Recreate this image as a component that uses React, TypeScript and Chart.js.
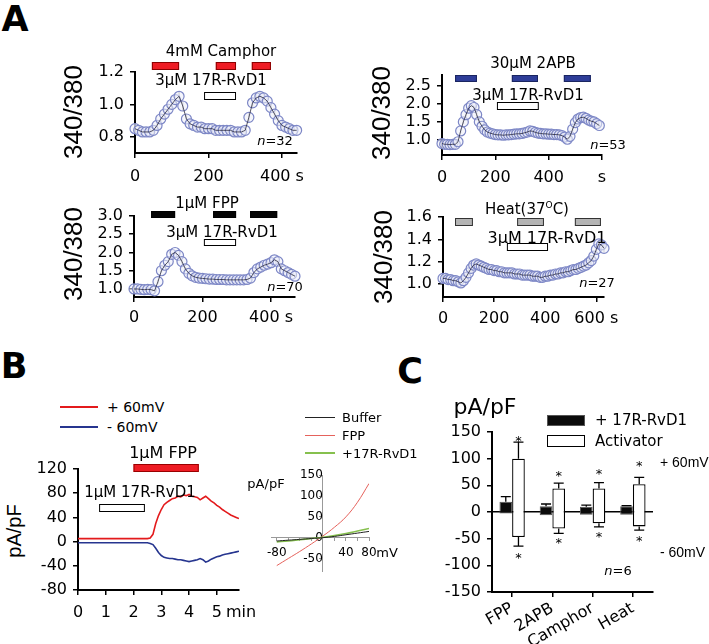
import React, { useEffect, useRef } from 'react';
import { Chart, registerables } from 'chart.js';
Chart.register(...registerables);

const FONT = "'DejaVu Sans', sans-serif";
const ARIAL = "'Liberation Sans', Arial, sans-serif";
Chart.defaults.font.family = FONT;
Chart.defaults.color = '#000';

// ---------------- DATA ----------------
// Panel A1: 4mM Camphor
const a1Time = [0,10,20,30,40,50,60,70,80,90,100,110,120,130,140,150,160,170,180,190,200,210,220,230,240,250,260,270,280,290,300,310,320,330,340,350,360,370,380,390,400,410,420,430,440];
const a1Ratio = [0.85,0.84,0.83,0.83,0.83,0.84,0.87,0.91,0.94,0.97,1.00,1.03,1.05,0.99,0.91,0.88,0.87,0.86,0.86,0.85,0.85,0.85,0.84,0.84,0.84,0.84,0.84,0.83,0.83,0.83,0.84,0.92,1.01,1.04,1.05,1.04,1.02,0.98,0.94,0.90,0.87,0.86,0.85,0.84,0.84];
const a1Sem = 0.03;
const a1Camphor = [[46,120],[220,275],[318,370]];
const a1Rvd = [[188,275]];

// Panel A2: 30uM 2APB
const a2Time = [0,10,20,30,40,50,60,70,80,90,100,110,120,130,140,150,160,170,180,190,200,210,220,230,240,250,260,270,280,290,300,310,320,330,340,350,360,370,380,390,400,410,420,430,440,450,460,470,480,490,500,510,520,530,540,550,560,570,580,590];
const a2Ratio = [0.90,0.88,0.88,0.87,0.88,0.88,0.95,1.25,1.50,1.70,1.88,1.95,1.90,1.70,1.50,1.38,1.28,1.22,1.19,1.17,1.15,1.14,1.14,1.13,1.14,1.14,1.15,1.16,1.17,1.17,1.18,1.20,1.22,1.25,1.24,1.21,1.19,1.18,1.17,1.17,1.16,1.16,1.15,1.15,1.14,1.12,1.08,1.02,1.10,1.30,1.48,1.58,1.62,1.63,1.60,1.55,1.52,1.50,1.45,1.40];
const a2Sem = 0.06;
const a2Apb = [[49,131],[262,360],[457,558]];
const a2Rvd = [[206,363]];

// Panel A3: 1uM FPP
const a3Time = [0,10,20,30,40,50,60,70,80,90,100,110,120,130,140,150,160,170,180,190,200,210,220,230,240,250,260,270,280,290,300,310,320,330,340,350,360,370,380,390,400,410,420,430,440,450,460,470];
const a3Ratio = [1.00,1.00,0.99,0.98,0.99,0.98,0.95,1.20,1.50,1.65,1.75,1.95,2.00,1.92,1.75,1.55,1.43,1.36,1.32,1.30,1.29,1.28,1.27,1.27,1.26,1.26,1.26,1.25,1.25,1.25,1.25,1.25,1.25,1.26,1.30,1.45,1.55,1.60,1.65,1.68,1.72,1.80,1.75,1.55,1.50,1.45,1.40,1.35];
const a3Sem = 0.05;
const a3Fpp = [[50,120],[231,298],[339,418]];
const a3Rvd = [[204,298]];

// Panel A4: Heat 37C
const a4Time = [0,10,20,30,40,50,60,70,80,90,100,110,120,130,140,150,160,170,180,190,200,210,220,230,240,250,260,270,280,290,300,310,320,330,340,350,360,370,380,390,400,410,420,430,440,450,460,470,480,490,500,510,520,530,540,550,560,570,580,590,600,610,620,630];
const a4Ratio = [1.05,1.05,1.04,1.04,1.03,1.03,1.02,1.01,1.03,1.06,1.10,1.14,1.17,1.18,1.17,1.16,1.15,1.14,1.13,1.13,1.12,1.12,1.11,1.11,1.10,1.10,1.10,1.10,1.09,1.09,1.09,1.08,1.08,1.08,1.08,1.07,1.07,1.07,1.06,1.06,1.07,1.07,1.08,1.08,1.09,1.09,1.10,1.10,1.11,1.11,1.12,1.13,1.13,1.14,1.15,1.16,1.17,1.19,1.21,1.25,1.31,1.36,1.35,1.32];
const a4Sem = 0.035;
const a4Heat = [[47,117],[290,395],[516,618]];
const a4Rvd = [[250,411]];

// Panel B: current traces (min, pA/pF)
const bTime = [0,0.5,1,1.5,2,2.5,2.6,2.7,2.8,2.9,3.0,3.1,3.2,3.3,3.4,3.5,3.6,3.7,3.8,3.9,4.0,4.1,4.2,4.3,4.4,4.5,4.6,4.7,4.8,4.9,5.0,5.1,5.2,5.3,5.4,5.5,5.6,5.7,5.8];
const bPlus60 = [5,5,5,5,5,5,6,12,30,43,53,61,65,68,71,72,75,74,77,76,78,75,74,73,69,72,75,71,67,64,60,57,53,50,47,44,42,40,38];
const bMinus60 = [-2,-2,-2,-2,-2,-2,-3,-5,-11,-18,-23,-26,-27,-28,-28,-29,-30,-30,-31,-32,-33,-32,-31,-30,-28,-30,-34,-32,-29,-27,-25,-24,-22,-21,-20,-19,-18,-17,-16];
const bFpp = [[2.0,4.35]];
const bRvd = [[0.76,2.41]];

// Panel B inset: I-V curves
const ivVolt = [-80,-60,-40,-20,0,20,40,60,80];
const ivBuffer = [-8,-6,-4,-2,0,3,7,11,15];
const ivFpp = [-67,-50,-33,-15,4,25,50,85,130];
const ivRvd = [-10,-8,-5,-2,1,5,10,16,22];

// Panel C: summary bars
const cCats = ['FPP','2APB','Camphor','Heat'];
const cRvdUp = [19,11,10,11];
const cRvdUpErr = [10,4,3,1];
const cRvdDown = [-3,-6,-5,-5];
const cActUp = [100,44,44,52];
const cActUpErr = [31,10,11,13];
const cActDown = [-47,-31,-21,-27];
const cActDownErr = [17,9,7,7];
const cStarUp = [140,75,78,93];
const cStarDown = [-80,-52,-40,-47];

// ---------------- HELPERS ----------------
type Area = { l: number; t: number; r: number; b: number };
type Frame = { area: Area; yw: number; xh: number; pt: number; pr: number };
type Rect = { x: number; y: number; w: number; h: number };

const rectOf = (f: Frame): Rect => ({
  x: f.area.l - f.yw,
  y: f.area.t - f.pt,
  w: f.area.r + f.pr - (f.area.l - f.yw),
  h: f.area.b + f.xh - (f.area.t - f.pt),
});

const xy = (xs: number[], ys: number[]) => xs.map((x, i) => ({ x, y: ys[i] }));
const fitY = (w: number) => (s: any) => { s.width = w; s.paddingTop = 0; s.paddingBottom = 0; s.paddingLeft = 0; s.paddingRight = 0; };
const fitX = (h: number) => (s: any) => { s.height = h; s.paddingTop = 0; s.paddingBottom = 0; s.paddingLeft = 0; s.paddingRight = 0; };
const setTicks = (vals: number[]) => (s: any) => { s.ticks = vals.map((v) => ({ value: v })); };

type Stim = { spans: number[][]; y: number; h: number; fill: string; stroke: string };
const stimPlugin = (stims: Stim[], canvasTop: number) => ({
  id: 'stim',
  afterDraw(chart: any) {
    const { ctx } = chart;
    const xs = chart.scales.x;
    stims.forEach((s) => {
      s.spans.forEach(([a, b]) => {
        const x0 = xs.getPixelForValue(a);
        const x1 = xs.getPixelForValue(b);
        const y0 = s.y - canvasTop;
        ctx.save();
        ctx.fillStyle = s.fill;
        ctx.fillRect(x0, y0, x1 - x0, s.h);
        ctx.strokeStyle = s.stroke;
        ctx.lineWidth = 1;
        ctx.strokeRect(x0 + 0.5, y0 + 0.5, x1 - x0 - 1, s.h - 1);
        ctx.restore();
      });
    });
  },
});

const semPlugin = (sem: number) => ({
  id: 'sem',
  beforeDatasetsDraw(chart: any) {
    const { ctx } = chart;
    const meta = chart.getDatasetMeta(1);
    const ys = chart.scales.y;
    ctx.save();
    ctx.strokeStyle = 'rgba(175,175,175,0.75)';
    ctx.lineWidth = 1.5;
    meta.data.forEach((pt: any, i: number) => {
      const v = chart.data.datasets[1].data[i].y;
      ctx.beginPath();
      ctx.moveTo(pt.x, ys.getPixelForValue(v + sem));
      ctx.lineTo(pt.x, ys.getPixelForValue(v - sem));
      ctx.stroke();
    });
    ctx.restore();
  },
});

const axisGrid = { drawOnChartArea: false, drawTicks: true, tickLength: 5, color: '#000', lineWidth: 1.5 };
const axisBorder = { display: true, color: '#000', width: 2 };

function aConfig(o: {
  frame: Frame; time: number[]; vals: number[]; sem: number; xMax: number; yMin: number; yMax: number;
  yTicks: number[]; xTicks: number[]; xLab: Record<string, string>; xPad: number; stims: Stim[];
}) {
  const r = rectOf(o.frame);
  const data = xy(o.time, o.vals);
  return {
    type: 'scatter',
    data: {
      datasets: [
        { data, showLine: true, pointRadius: 0, borderColor: 'rgba(30,30,50,0.75)', borderWidth: 1, clip: false, order: 1 },
        { data, showLine: false, pointRadius: 5, pointBorderWidth: 1.2, pointBorderColor: '#7d87c6', pointBackgroundColor: 'rgba(236,238,250,0.55)', clip: false, order: 2 },
      ],
    },
    options: {
      responsive: false, animation: false, devicePixelRatio: 1,
      layout: { padding: { left: 0, top: o.frame.pt, right: o.frame.pr, bottom: 0 } },
      plugins: { legend: { display: false }, tooltip: { enabled: false } },
      scales: {
        x: {
          type: 'linear', min: 0, max: o.xMax, afterFit: fitX(o.frame.xh), afterBuildTicks: setTicks(o.xTicks),
          ticks: { font: { size: 16, family: FONT }, padding: o.xPad, maxRotation: 0, autoSkip: false, callback: (v: number) => o.xLab[String(v)] ?? String(v) },
          grid: axisGrid, border: axisBorder,
        },
        y: {
          min: o.yMin, max: o.yMax, afterFit: fitY(o.frame.yw), afterBuildTicks: setTicks(o.yTicks),
          ticks: { font: { size: 16, family: FONT }, padding: 6, autoSkip: false, callback: (v: number) => v.toFixed(1) },
          grid: axisGrid, border: axisBorder,
        },
      },
    },
    plugins: [semPlugin(o.sem), stimPlugin(o.stims, r.y)],
  };
}

// ---------------- FRAMES ----------------
const A1F: Frame = { area: { l: 135, t: 72, r: 297, b: 153 }, yw: 50, xh: 40, pt: 45, pr: 35 };
const A2F: Frame = { area: { l: 442, t: 75, r: 602, b: 155 }, yw: 50, xh: 40, pt: 45, pr: 30 };
const A3F: Frame = { area: { l: 134, t: 216, r: 295, b: 297 }, yw: 50, xh: 40, pt: 45, pr: 35 };
const A4F: Frame = { area: { l: 443, t: 217, r: 604, b: 297 }, yw: 50, xh: 40, pt: 45, pr: 35 };
const BF: Frame = { area: { l: 78, t: 469, r: 239, b: 590 }, yw: 50, xh: 40, pt: 12, pr: 22 };
const IVF: Frame = { area: { l: 271, t: 473, r: 369, b: 571 }, yw: 45, xh: 25, pt: 11, pr: 20 };
const CF: Frame = { area: { l: 492, t: 432, r: 653, b: 592 }, yw: 55, xh: 52, pt: 15, pr: 10 };

const RED = '#ee1c24';
const WHITE_BAR = (spans: number[][], y: number, h: number): Stim => ({ spans, y, h, fill: '#ffffff', stroke: '#000' });

function buildA1() {
  return aConfig({
    frame: A1F, time: a1Time, vals: a1Ratio, sem: a1Sem, xMax: 441, yMin: 0.7, yMax: 1.2,
    yTicks: [0.8, 1.0, 1.2], xTicks: [0, 200, 400], xLab: { '400': '400 s' }, xPad: 9,
    stims: [{ spans: a1Camphor, y: 62, h: 8, fill: RED, stroke: '#8b0000' }, WHITE_BAR(a1Rvd, 92, 8)],
  });
}
function buildA2() {
  return aConfig({
    frame: A2F, time: a2Time, vals: a2Ratio, sem: a2Sem, xMax: 600, yMin: 0.583, yMax: 2.8,
    yTicks: [1.0, 1.5, 2.0, 2.5], xTicks: [0, 200, 400, 600], xLab: { '600': 's' }, xPad: 8,
    stims: [{ spans: a2Apb, y: 75, h: 7, fill: '#2e3d98', stroke: '#1a2560' }, WHITE_BAR(a2Rvd, 102, 8)],
  });
}
function buildA3() {
  return aConfig({
    frame: A3F, time: a3Time, vals: a3Ratio, sem: a3Sem, xMax: 470, yMin: 0.78, yMax: 3.0,
    yTicks: [1.0, 1.5, 2.0, 2.5, 3.0], xTicks: [0, 200, 400], xLab: { '400': '400 s' }, xPad: 6,
    stims: [{ spans: a3Fpp, y: 211, h: 7, fill: '#050505', stroke: '#000' }, WHITE_BAR(a3Rvd, 239, 7)],
  });
}
function buildA4() {
  return aConfig({
    frame: A4F, time: a4Time, vals: a4Ratio, sem: a4Sem, xMax: 630, yMin: 0.884, yMax: 1.6,
    yTicks: [1.0, 1.2, 1.4, 1.6], xTicks: [0, 200, 400, 600], xLab: { '600': '600 s' }, xPad: 7,
    stims: [{ spans: a4Heat, y: 218, h: 8, fill: '#b4b4b4', stroke: '#333' }, WHITE_BAR(a4Rvd, 243, 8)],
  });
}

function buildB() {
  const r = rectOf(BF);
  return {
    type: 'scatter',
    data: {
      datasets: [
        { data: xy(bTime, bPlus60), showLine: true, pointRadius: 0, borderColor: '#e31a1c', borderWidth: 1.6 },
        { data: xy(bTime, bMinus60), showLine: true, pointRadius: 0, borderColor: '#26358f', borderWidth: 1.6 },
      ],
    },
    options: {
      responsive: false, animation: false, devicePixelRatio: 1,
      layout: { padding: { left: 0, top: BF.pt, right: BF.pr, bottom: 0 } },
      plugins: { legend: { display: false }, tooltip: { enabled: false } },
      scales: {
        x: {
          type: 'linear', min: 0, max: 5.8, afterFit: fitX(BF.xh), afterBuildTicks: setTicks([0, 1, 2, 3, 4, 5]),
          ticks: { font: { size: 16 }, padding: 8.5, maxRotation: 0, autoSkip: false },
          grid: axisGrid, border: axisBorder,
        },
        y: {
          min: -80, max: 120, afterFit: fitY(BF.yw), afterBuildTicks: setTicks([-80, -40, 0, 40, 80, 120]),
          ticks: { font: { size: 16 }, padding: 6, autoSkip: false },
          grid: axisGrid, border: axisBorder,
        },
      },
    },
    plugins: [stimPlugin([{ spans: bFpp, y: 464, h: 8, fill: RED, stroke: '#900' }, WHITE_BAR(bRvd, 504, 8)], r.y)],
  };
}

function buildIV() {
  const lab: Record<string, string> = { '-80': '-80', '40': '40', '80': '80' };
  const g = { drawOnChartArea: false, drawTicks: true, tickLength: 3, color: '#999', lineWidth: 1 };
  const bd = { display: true, color: '#999', width: 1 };
  return {
    type: 'scatter',
    data: {
      datasets: [
        { data: xy(ivVolt, ivBuffer), showLine: true, pointRadius: 0, borderColor: '#222', borderWidth: 1, tension: 0.4 },
        { data: xy(ivVolt, ivRvd), showLine: true, pointRadius: 0, borderColor: '#86c04e', borderWidth: 1.6, tension: 0.4 },
        { data: xy(ivVolt, ivFpp), showLine: true, pointRadius: 0, borderColor: '#e5625c', borderWidth: 1, tension: 0.4 },
      ],
    },
    options: {
      responsive: false, animation: false, devicePixelRatio: 1,
      layout: { padding: { left: IVF.yw, top: IVF.pt, right: IVF.pr, bottom: IVF.xh } },
      plugins: { legend: { display: false }, tooltip: { enabled: false } },
      scales: {
        x: {
          type: 'linear', min: -90, max: 80, position: { y: 0 }, afterBuildTicks: setTicks([-80, -60, -40, -20, 20, 40, 60, 80]),
          ticks: { font: { size: 12 }, padding: 5, maxRotation: 0, autoSkip: false, callback: (v: number) => lab[String(v)] ?? '' },
          grid: g, border: bd,
        },
        y: {
          type: 'linear', min: -80, max: 150, position: { x: 0 }, afterBuildTicks: setTicks([-50, 0, 50, 100, 150]),
          ticks: { font: { size: 12 }, padding: 6, autoSkip: false },
          grid: g, border: bd,
        },
      },
    },
  };
}

const cPlugin = {
  id: 'cerr',
  afterDatasetsDraw(chart: any) {
    const { ctx } = chart;
    const ys = chart.scales.y;
    const sets = [
      { ds: 0, up: cRvdUp, upErr: cRvdUpErr, down: cRvdDown, downErr: cRvdDown.map(() => 0) },
      { ds: 1, up: cActUp, upErr: cActUpErr, down: cActDown, downErr: cActDownErr },
    ];
    ctx.save();
    ctx.strokeStyle = '#000';
    ctx.lineWidth = 1.3;
    const cap = 5;
    sets.forEach((s) => {
      chart.getDatasetMeta(s.ds).data.forEach((bar: any, i: number) => {
        const x = bar.x;
        const line = (v0: number, v1: number) => {
          const p0 = ys.getPixelForValue(v0);
          const p1 = ys.getPixelForValue(v1);
          ctx.beginPath();
          ctx.moveTo(x, p0); ctx.lineTo(x, p1);
          ctx.moveTo(x - cap, p1); ctx.lineTo(x + cap, p1);
          ctx.stroke();
        };
        if (s.upErr[i]) line(s.up[i], s.up[i] + s.upErr[i]);
        if (s.downErr[i]) line(s.down[i], s.down[i] - s.downErr[i]);
      });
    });
    ctx.fillStyle = '#000';
    ctx.font = `13px ${FONT}`;
    ctx.textAlign = 'center';
    ctx.textBaseline = 'alphabetic';
    chart.getDatasetMeta(1).data.forEach((bar: any, i: number) => {
      ctx.fillText('*', bar.x, ys.getPixelForValue(cStarUp[i]) + 7.5);
      ctx.fillText('*', bar.x, ys.getPixelForValue(cStarDown[i]) + 7.5);
    });
    ctx.restore();
  },
};

function buildC() {
  return {
    type: 'bar',
    data: {
      labels: cCats,
      datasets: [
        { label: '+ 17R-RvD1', data: cCats.map((_, i) => [cRvdDown[i], cRvdUp[i]]), backgroundColor: '#0b0b0b', borderColor: '#555', borderWidth: 1, borderSkipped: false, categoryPercentage: 0.63, barPercentage: 1 },
        { label: 'Activator', data: cCats.map((_, i) => [cActDown[i], cActUp[i]]), backgroundColor: '#ffffff', borderColor: '#000', borderWidth: 1.3, borderSkipped: false, categoryPercentage: 0.63, barPercentage: 1 },
      ],
    },
    options: {
      responsive: false, animation: false, devicePixelRatio: 1,
      layout: { padding: { left: 0, top: CF.pt, right: CF.pr, bottom: 0 } },
      plugins: { legend: { display: false }, tooltip: { enabled: false } },
      scales: {
        x: {
          afterFit: fitX(CF.xh),
          ticks: { font: { size: 16 }, padding: 2, maxRotation: 30, minRotation: 30, autoSkip: false },
          grid: { ...axisGrid, offset: false }, border: axisBorder,
        },
        y: {
          min: -150, max: 150, z: 1, afterFit: fitY(CF.yw), afterBuildTicks: setTicks([-150, -100, -50, 0, 50, 100, 150]),
          ticks: { font: { size: 16 }, padding: 6, autoSkip: false },
          grid: {
            drawOnChartArea: true, drawTicks: true, tickLength: 5, lineWidth: 1.5, tickColor: '#000',
            color: (c: any) => (c.tick && c.tick.value === 0 ? '#000' : 'rgba(0,0,0,0)'),
          },
          border: axisBorder,
        },
      },
    },
    plugins: [cPlugin],
  };
}

// ---------------- COMPONENTS ----------------
function ChartCanvas({ frame, build }: { frame: Frame; build: () => any }) {
  const ref = useRef<HTMLCanvasElement>(null);
  const r = rectOf(frame);
  useEffect(() => {
    const chart = new Chart(ref.current as HTMLCanvasElement, build());
    return () => chart.destroy();
  }, []);
  return (
    <canvas ref={ref} width={r.w} height={r.h}
      style={{ position: 'absolute', left: r.x, top: r.y, width: r.w, height: r.h }} />
  );
}

function T({ x, y, s, f = FONT, w = 400, rot = 0, a = 'c', children }: any) {
  const tx = a === 'c' ? '-50%' : a === 'l' ? '0%' : '-100%';
  return (
    <div style={{
      position: 'absolute', left: x, top: y, fontSize: s, fontFamily: f, fontWeight: w, lineHeight: 1,
      whiteSpace: 'nowrap', transform: `translate(${tx},-50%) rotate(${rot}deg)`,
    }}>{children}</div>
  );
}

function HLine({ x0, x1, y, c, w = 1.5 }: any) {
  return <div style={{ position: 'absolute', left: x0, top: y - w / 2, width: x1 - x0, height: w, background: c }} />;
}

export default function App() {
  useEffect(() => {
    document.body.style.margin = '0';
    document.body.style.overflow = 'hidden';
  }, []);
  return (
    <div style={{ position: 'fixed', left: 0, top: 0, width: 709, height: 644, overflow: 'hidden', background: '#fff', color: '#000', fontFamily: FONT }}>
      <ChartCanvas frame={A1F} build={buildA1} />
      <ChartCanvas frame={A2F} build={buildA2} />
      <ChartCanvas frame={A3F} build={buildA3} />
      <ChartCanvas frame={A4F} build={buildA4} />
      <ChartCanvas frame={BF} build={buildB} />
      <ChartCanvas frame={IVF} build={buildIV} />
      <ChartCanvas frame={CF} build={buildC} />

      {/* Panel letters */}
      <T x={15} y={19} s={35} w={700}>A</T>
      <T x={14} y={366} s={35} w={700}>B</T>
      <T x={410} y={371} s={35} w={700}>C</T>

      {/* A1 */}
      <T x={221} y={51} s={15}>4mM Camphor</T>
      <T x={211} y={80} s={15}>3μM 17R-RvD1</T>
      <T x={275} y={140} s={13}><i>n</i>=32</T>
      <T x={73} y={112} s={26} f={ARIAL} rot={-90}>340/380</T>

      {/* A2 */}
      <T x={533} y={63} s={15}>30μM 2APB</T>
      <T x={528} y={95} s={15}>3μM 17R-RvD1</T>
      <T x={608} y={144} s={13}><i>n</i>=53</T>
      <T x={381} y={113} s={26} f={ARIAL} rot={-90}>340/380</T>

      {/* A3 */}
      <T x={207} y={203} s={15}>1μM FPP</T>
      <T x={222} y={232} s={15}>3μM 17R-RvD1</T>
      <T x={285} y={286} s={13}><i>n</i>=70</T>
      <T x={73} y={254} s={26} f={ARIAL} rot={-90}>340/380</T>

      {/* A4 */}
      <T x={527} y={209} s={15}>Heat(37<sup style={{ fontSize: '0.6em', lineHeight: 0 }}>O</sup>C)</T>
      <T x={547} y={238} s={16}>3μM 17R-RvD1</T>
      <T x={597} y={282} s={13}><i>n</i>=27</T>
      <T x={383} y={257} s={26} f={ARIAL} rot={-90}>340/380</T>

      {/* B */}
      <HLine x0={60} x1={98} y={407} c="#e31a1c" />
      <HLine x0={60} x1={98} y={427} c="#26358f" />
      <T x={107} y={407} s={14} a="l">+ 60mV</T>
      <T x={107} y={427} s={14} a="l">- 60mV</T>
      <T x={163} y={453} s={16}>1μM FPP</T>
      <T x={140} y={492} s={15}>1μM 17R-RvD1</T>
      <T x={14} y={531} s={20} f={ARIAL} rot={-90}>pA/pF</T>
      <T x={241} y={612} s={16}>min</T>

      {/* B inset */}
      <HLine x0={305} x1={335} y={417} c="#222" w={1} />
      <HLine x0={305} x1={335} y={435} c="#e5625c" w={1} />
      <HLine x0={305} x1={335} y={453} c="#86c04e" w={1.6} />
      <T x={342} y={417} s={13} a="l">Buffer</T>
      <T x={342} y={435} s={13} a="l">FPP</T>
      <T x={342} y={453} s={13} a="l">+17R-RvD1</T>
      <T x={266} y={483} s={13}>pA/pF</T>
      <T x={387} y={552} s={13}>mV</T>

      {/* C */}
      <T x={485} y={407} s={22}>pA/pF</T>
      <div style={{ position: 'absolute', left: 547, top: 415, width: 38, height: 11, background: '#0b0b0b', border: '1px solid #555', boxSizing: 'border-box' }} />
      <div style={{ position: 'absolute', left: 547, top: 435, width: 38, height: 12, background: '#fff', border: '1.3px solid #000', boxSizing: 'border-box' }} />
      <T x={595} y={420} s={15} a="l">+ 17R-RvD1</T>
      <T x={595} y={441} s={15} a="l">Activator</T>
      <T x={660} y={462} s={14} f={ARIAL} a="l">+ 60mV</T>
      <T x={660} y={552} s={14} f={ARIAL} a="l">- 60mV</T>
      <T x={618} y={570} s={13}><i>n</i>=6</T>
    </div>
  );
}
